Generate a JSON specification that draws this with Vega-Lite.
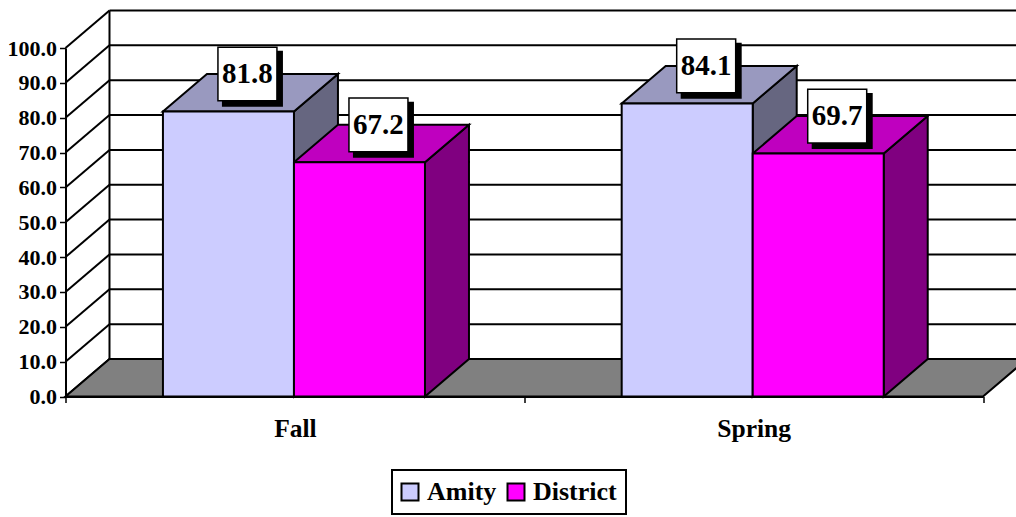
{
"$schema":"https://vega.github.io/schema/vega-lite/v6.json",
"width":917.5,"height":348.5,
"autosize":"none",
"padding":{"left":65.5,"top":48,"right":33,"bottom":120.5},
"background":"white",
"config":{"view":{"stroke":null},"legend":{"strokeWidth":2},"axisY":{"labelOverlap":false,"tickCount":10,"labelFontSize":22}},
"datasets":{
"bars":[
{"period":"Fall","series":"Amity","value":81.8},
{"period":"Fall","series":"District","value":67.2},
{"period":"Spring","series":"Amity","value":84.1},
{"period":"Spring","series":"District","value":69.7}],
"ticks":[{"tick":0},{"tick":10},{"tick":20},{"tick":30},{"tick":40},{"tick":50},{"tick":60},{"tick":70},{"tick":80},{"tick":90},{"tick":100}],
"floor":[{"depth":0},{"depth":1}]
},
"layer":[
{"data":{"name":"ticks"},
"transform":[{"calculate":"0.0959","as":"bx"},{"calculate":"2.0959","as":"bx2"},{"calculate":"datum.tick+10.76","as":"by"}],
"mark":{"type":"rule","color":"black","strokeWidth":2},
"encoding":{
"x":{"field":"bx","type":"quantitative","scale":{"domain":[0,2],"nice":false,"zero":false},
"axis":{"title":null,"values":[0,0.5,1,1.5,2],"grid":false,"domainColor":"black","domainWidth":2,"tickColor":"black","tickWidth":1.5,"tickSize":{"condition":{"test":"datum.value===0.5||datum.value===1.5","value":0},"value":6},"labelExpr":"datum.value===0.5?'Fall':datum.value===1.5?'Spring':''","labelFont":"Liberation Serif","labelFontWeight":"bold","labelFontSize":25.5,"labelColor":"black","labelPadding":20,"labelOverlap":false,"labelFlush":false,"zindex":1}},
"x2":{"field":"bx2"},
"y":{"field":"by","type":"quantitative","scale":{"domain":[0,100],"nice":false,"zero":false},
"axis":{"title":null,"tickCount":10,"format":".1f","grid":false,"domainColor":"black","domainWidth":2,"tickColor":"black","tickWidth":1.5,"tickSize":6,"labelFont":"Liberation Serif","labelFontWeight":"bold","labelFontSize":22,"labelColor":"black","labelPadding":3,"labelOverlap":false,"labelFlush":false,"zindex":1}}
}},
{"data":{"name":"ticks"},
"transform":[{"calculate":"0","as":"ax"},{"calculate":"0.0959","as":"ax2"},{"calculate":"datum.tick+10.76","as":"ay2"}],
"mark":{"type":"rule","color":"black","strokeWidth":2},
"encoding":{
"x":{"field":"ax","type":"quantitative","scale":{"domain":[0,2],"nice":false,"zero":false},"axis":{"title":null}},
"x2":{"field":"ax2"},
"y":{"field":"tick","type":"quantitative","scale":{"domain":[0,100],"nice":false,"zero":false},"axis":{"title":null}},
"y2":{"field":"ay2"}
}},
{"data":{"name":"ticks"},
"transform":[{"filter":"datum.tick===0"},{"calculate":"0.0959","as":"bx"},{"calculate":"10.76","as":"by"},{"calculate":"110.76","as":"by2"}],
"mark":{"type":"rule","color":"black","strokeWidth":2},
"encoding":{
"x":{"field":"bx","type":"quantitative","scale":{"domain":[0,2],"nice":false,"zero":false},"axis":{"title":null}},
"y":{"field":"by","type":"quantitative","scale":{"domain":[0,100],"nice":false,"zero":false},"axis":{"title":null}},
"y2":{"field":"by2"}
}},
{"data":{"name":"floor"},
"transform":[{"calculate":"0.0959*datum.depth","as":"fx"},{"calculate":"2+0.0959*datum.depth","as":"fx2"},{"calculate":"10.76*datum.depth","as":"fy"}],
"mark":{"type":"area","orient":"horizontal","fill":"#808080","stroke":"black","strokeWidth":2,"opacity":1},
"encoding":{
"x":{"field":"fx","type":"quantitative","scale":{"domain":[0,2],"nice":false,"zero":false},"axis":{"title":null}},
"x2":{"field":"fx2"},
"y":{"field":"fy","type":"quantitative","scale":{"domain":[0,100],"nice":false,"zero":false},"axis":{"title":null}}
}},
{"data":{"name":"bars"},
"transform":[
{"calculate":"(datum.period==='Fall'?0:1)+0.2124+(datum.series==='Amity'?0:0.2856)","as":"x0"},
{"calculate":"datum.x0+0.2856","as":"x1"},
{"calculate":"0","as":"near"},{"calculate":"1","as":"far"},
{"fold":["near","far"],"as":["end","t"]},
{"calculate":"datum.x1+0.0959*datum.t","as":"sx"},
{"calculate":"datum.value+10.76*datum.t","as":"sy"},
{"calculate":"10.76*datum.t","as":"sy2"},
{"calculate":"datum.period+datum.series","as":"bar"}],
"mark":{"type":"area","orient":"vertical","stroke":"black","strokeWidth":2,"opacity":1},
"encoding":{
"x":{"field":"sx","type":"quantitative","scale":{"domain":[0,2],"nice":false,"zero":false},"axis":{"title":null}},
"y":{"field":"sy","type":"quantitative","scale":{"domain":[0,100],"nice":false,"zero":false},"axis":{"title":null}},
"y2":{"field":"sy2"},
"detail":{"field":"bar"},
"fill":{"condition":{"test":"datum.series==='Amity'","value":"#666680"},"value":"#800080"}
}},
{"data":{"name":"bars"},
"transform":[
{"calculate":"(datum.period==='Fall'?0:1)+0.2124+(datum.series==='Amity'?0:0.2856)","as":"x0"},
{"calculate":"datum.x0+0.2856","as":"x1"},
{"calculate":"0","as":"near"},{"calculate":"1","as":"far"},
{"fold":["near","far"],"as":["end","t"]},
{"calculate":"datum.x0+0.0959*datum.t","as":"tx"},
{"calculate":"datum.x1+0.0959*datum.t","as":"tx2"},
{"calculate":"datum.value+10.76*datum.t","as":"ty"},
{"calculate":"datum.period+datum.series","as":"bar"}],
"mark":{"type":"area","orient":"horizontal","stroke":"black","strokeWidth":2,"opacity":1},
"encoding":{
"x":{"field":"tx","type":"quantitative","scale":{"domain":[0,2],"nice":false,"zero":false},"axis":{"title":null}},
"x2":{"field":"tx2"},
"y":{"field":"ty","type":"quantitative","scale":{"domain":[0,100],"nice":false,"zero":false},"axis":{"title":null}},
"detail":{"field":"bar"},
"fill":{"condition":{"test":"datum.series==='Amity'","value":"#9999BF"},"value":"#BF00BF"}
}},
{"data":{"name":"bars"},
"transform":[
{"calculate":"(datum.period==='Fall'?0:1)+0.2124+(datum.series==='Amity'?0:0.2856)","as":"x0"},
{"calculate":"datum.x0+0.2856","as":"x1"}],
"mark":{"type":"rect","stroke":"black","strokeWidth":2},
"encoding":{
"x":{"field":"x0","type":"quantitative","scale":{"domain":[0,2],"nice":false,"zero":false},"axis":{"title":null}},
"x2":{"field":"x1"},
"y":{"field":"value","type":"quantitative","scale":{"domain":[0,100],"nice":false,"zero":false},"axis":{"title":null}},
"y2":{"datum":0},
"fill":{"field":"series","type":"nominal","scale":{"domain":["Amity","District"],"range":["#CCCCFF","#FF00FF"]},
"legend":{"title":null,"orient":"none","legendX":326.5,"legendY":422,"direction":"horizontal","symbolType":"square","symbolSize":289,"symbolStrokeColor":"black","symbolStrokeWidth":2,"symbolOpacity":1,"symbolOffset":-4,"strokeColor":"black","fillColor":"white","padding":9,"labelFont":"Liberation Serif","labelFontWeight":"bold","labelFontSize":26,"labelColor":"black","labelOffset":4,"columnPadding":6}}
}},
{"data":{"name":"bars"},
"transform":[
{"calculate":"(datum.period==='Fall'?0:1)+0.2124+(datum.series==='Amity'?0:0.2856)","as":"x0"},
{"calculate":"datum.x0+0.1286","as":"bx"},{"calculate":"datum.x0+0.2616","as":"bx2"},
{"calculate":"datum.value+17.4","as":"by"},{"calculate":"datum.value+1.32","as":"by2"}],
"mark":{"type":"rect","fill":"black"},
"encoding":{
"x":{"field":"bx","type":"quantitative","scale":{"domain":[0,2],"nice":false,"zero":false},"axis":{"title":null}},
"x2":{"field":"bx2"},
"y":{"field":"by","type":"quantitative","scale":{"domain":[0,100],"nice":false,"zero":false},"axis":{"title":null}},
"y2":{"field":"by2"}
}},
{"data":{"name":"bars"},
"transform":[
{"calculate":"(datum.period==='Fall'?0:1)+0.2124+(datum.series==='Amity'?0:0.2856)","as":"x0"},
{"calculate":"datum.x0+0.1199","as":"bx"},{"calculate":"datum.x0+0.2485","as":"bx2"},
{"calculate":"datum.value+18.45","as":"by"},{"calculate":"datum.value+3.04","as":"by2"}],
"mark":{"type":"rect","fill":"white","stroke":"black","strokeWidth":1.5},
"encoding":{
"x":{"field":"bx","type":"quantitative","scale":{"domain":[0,2],"nice":false,"zero":false},"axis":{"title":null}},
"x2":{"field":"bx2"},
"y":{"field":"by","type":"quantitative","scale":{"domain":[0,100],"nice":false,"zero":false},"axis":{"title":null}},
"y2":{"field":"by2"}
}},
{"data":{"name":"bars"},
"transform":[
{"calculate":"(datum.period==='Fall'?0:1)+0.2124+(datum.series==='Amity'?0:0.2856)","as":"x0"},
{"calculate":"datum.x0+0.1842","as":"lx"},
{"calculate":"datum.value+10.75","as":"ly"}],
"mark":{"type":"text","font":"Liberation Serif","fontWeight":"bold","fontSize":29,"color":"black","align":"center","baseline":"middle"},
"encoding":{
"x":{"field":"lx","type":"quantitative","scale":{"domain":[0,2],"nice":false,"zero":false},"axis":{"title":null}},
"y":{"field":"ly","type":"quantitative","scale":{"domain":[0,100],"nice":false,"zero":false},"axis":{"title":null}},
"text":{"field":"value","type":"quantitative","format":".1f"}
}}
]
}
